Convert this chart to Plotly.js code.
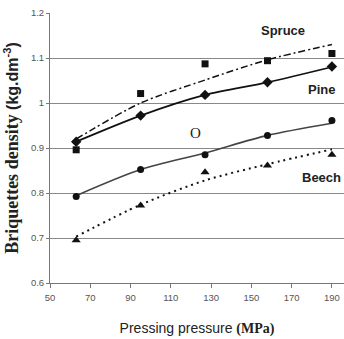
<!DOCTYPE html>
<html><head><meta charset="utf-8">
<script src="https://cdn.plot.ly/plotly-3.0.1.min.js"></script>
<style>html,body{margin:0;padding:0;background:#fff}#chart{width:344px;height:339px}</style>
</head><body><div id="chart"></div>
<script>
// Pressing pressure (MPa)
const pressure = [63, 95, 127, 158, 190];
// Measured densities (kg.dm-3)
const spruce = [0.896, 1.021, 1.087, 1.094, 1.110];
const pine   = [0.914, 0.972, 1.018, 1.046, 1.081];
const oSeries = [0.792, 0.852, 0.885, 0.928, 0.961];
const beech  = [0.695, 0.772, 0.846, 0.861, 0.885];
// Trend lines
const spruceFit = [0.920, 1.000, 1.051, 1.096, 1.130];
const pineFit   = [0.914, 0.972, 1.018, 1.046, 1.080];
const oFit      = [0.794, 0.852, 0.889, 0.928, 0.955];
const beechFit  = [0.703, 0.774, 0.828, 0.864, 0.897];
// Labels
const labels = ["Spruce", "Pine", "O", "Beech"];
const labelX = [165.5, 185, 122.5, 185];
const labelY = [1.162, 1.029, 0.934, 0.834];

const fitLine = (y, dash, width, color) => ({x: pressure, y: y, mode: 'lines', type: 'scatter',
  line: {shape: 'spline', smoothing: 0.8, dash: dash, width: width, color: color}, hoverinfo: 'skip'});
const pts = (y, symbol, size) => ({x: pressure, y: y, mode: 'markers', type: 'scatter',
  marker: {symbol: symbol, size: size, color: '#111'}});

const data = [
  fitLine(spruceFit, '7px,3px,2px,3px', 1.5, '#111'),
  fitLine(pineFit, 'solid', 1.8, '#111'),
  fitLine(oFit, 'solid', 1.6, '#444'),
  fitLine(beechFit, '2px,4px', 2, '#111'),
  pts(spruce, 'square', 7),
  pts(pine, 'diamond', 8),
  pts(oSeries, 'circle', 7),
  pts(beech, 'triangle-up', 8)
];

const fontsMain = ['Liberation Sans, Arial, sans-serif', 'Liberation Sans, Arial, sans-serif',
                   'Liberation Serif, Times New Roman, serif', 'Liberation Sans, Arial, sans-serif'];
const annotations = labels.map((t, i) => ({x: labelX[i], y: labelY[i], text: i === 2 ? t : '<b>' + t + '</b>',
  showarrow: false, xanchor: 'center', yanchor: 'middle',
  font: {family: fontsMain[i], size: i === 2 ? 15 : 13, color: '#222'}}));

const tickFont = {family: 'Liberation Sans Narrow, Arial Narrow, sans-serif', size: 9.5, color: '#555'};

const layout = {
  width: 344, height: 339,
  margin: {l: 50, r: 0, t: 13, b: 56},
  paper_bgcolor: '#fff', plot_bgcolor: '#fff',
  showlegend: false,
  xaxis: {range: [50, 196], tick0: 50, dtick: 20, showgrid: false, zeroline: false,
    showline: true, linecolor: '#777', linewidth: 1, ticks: 'outside', ticklen: 4, tickcolor: '#777',
    ticklabelstandoff: 2,
    tickfont: tickFont,
    title: {text: 'Pressing pressure <b><span style="font-family:Liberation Serif">(MPa)</span></b>',
      font: {family: 'Liberation Sans, Arial, sans-serif', size: 14, color: '#222'}, standoff: 20}},
  yaxis: {range: [0.6, 1.2], tick0: 0.6, dtick: 0.1, showgrid: true, gridcolor: '#888', gridwidth: 1,
    zeroline: false, showline: true, linecolor: '#777', linewidth: 1, ticks: 'outside', ticklen: 3, tickcolor: '#777',
    tickfont: tickFont,
    title: {text: '<b>Briquettes density <span style="font-family:Liberation Sans;font-size:16px">(kg.dm<sup>-3</sup>)</span></b>',
      font: {family: 'Liberation Serif, serif', size: 18, color: '#222'}, standoff: 7}},
  annotations: annotations
};

Plotly.newPlot('chart', data, layout, {displayModeBar: false, staticPlot: true});
</script></body></html>
